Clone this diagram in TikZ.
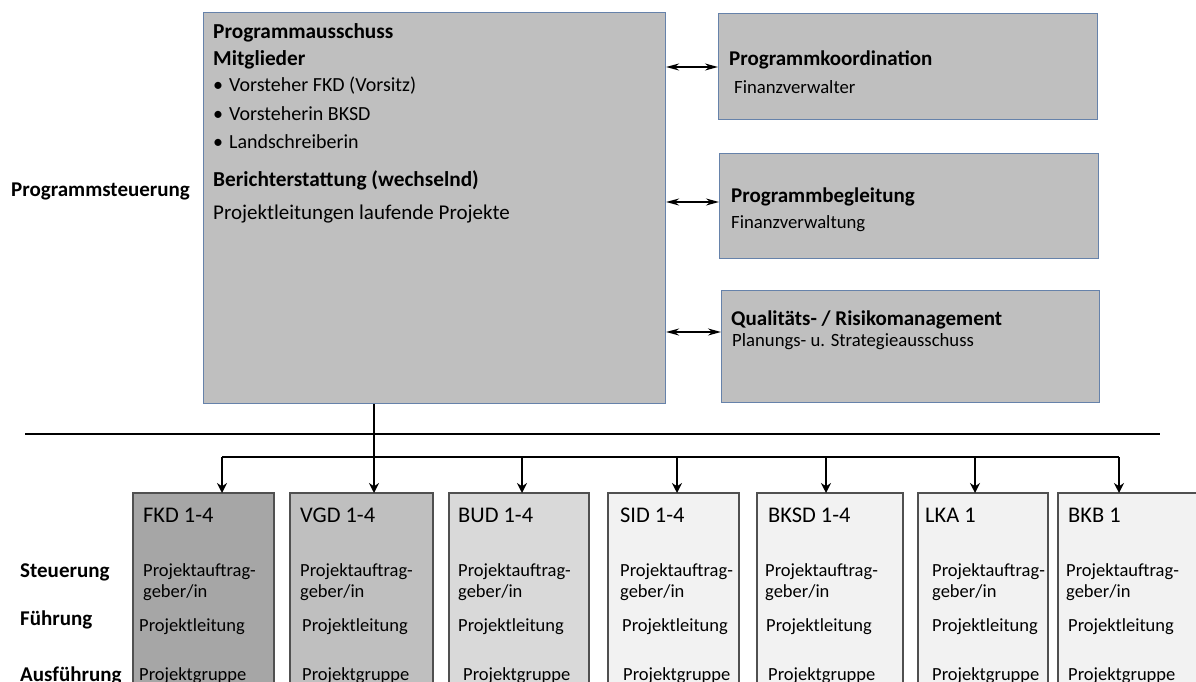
\documentclass[tikz,border=0pt]{standalone}
\usepackage{fontspec}
\setmainfont{Carlito}
\usetikzlibrary{arrows.meta}
\definecolor{topfill}{HTML}{BFBFBF}
\definecolor{topborder}{HTML}{6682AA}
\definecolor{botborder}{HTML}{505050}
\definecolor{gA}{HTML}{A6A6A6}
\definecolor{gB}{HTML}{BFBFBF}
\definecolor{gC}{HTML}{D9D9D9}
\definecolor{gD}{HTML}{F2F2F2}
\begin{document}
\begin{tikzpicture}[x=1pt,y=-1pt,
  topbox/.style={draw=topborder,fill=topfill,line width=1.1pt},
  botbox/.style={draw=botborder,line width=1.4pt},
  txt/.style={anchor=west,inner sep=0pt,font=\fontsize{21}{24}\selectfont,text=black},
  btxt/.style={txt,font=\fontsize{21.3}{24}\selectfont\bfseries},
  itx/.style={txt,font=\fontsize{20}{23}\selectfont},
  stxt/.style={txt,font=\fontsize{18.7}{21}\selectfont},
  sbtxt/.style={txt,font=\fontsize{21}{24}\selectfont\bfseries},
  ttl/.style={txt,font=\fontsize{22.4}{26}\selectfont},
  itm/.style={txt,font=\fontsize{18.5}{21}\selectfont},
  lbl/.style={txt,font=\fontsize{21}{24}\selectfont\bfseries},
  dbl/.style={{Stealth[length=13pt,width=7pt]}-{Stealth[length=13pt,width=7pt]},line width=1.6pt},
  down/.style={-{Stealth[length=10pt,width=10pt]},line width=2.4pt},
  bus/.style={line width=2.4pt}]
\useasboundingbox (0,0) rectangle (1196,682);
% top
\node[topbox,minimum width=462pt,minimum height=391pt,anchor=north west,inner sep=0pt] (main) at (203,12) {};
\node[btxt] (t1) at (213,33) {Programmausschuss};
\node[btxt] (t2) at (213,60) {Mitglieder};
\node[itx] (b1) at (213,86) {•\hspace{6pt}Vorsteher FKD (Vorsitz)};
\node[itx] (b2) at (213,114) {•\hspace{6pt}Vorsteherin BKSD};
\node[itx] (b3) at (213,142) {•\hspace{6pt}Landschreiberin};
\node[btxt] (t3) at (213,180) {Berichterstattung (wechselnd)};
\node[txt] (t4) at (213,214) {Projektleitungen laufende Projekte};
\node[lbl] (ps) at (11,191) {Programmsteuerung};
\node[topbox,minimum width=379pt,minimum height=106pt,anchor=north west,inner sep=0pt] (r1) at (718,13) {};
\node[topbox,minimum width=379pt,minimum height=105pt,anchor=north west,inner sep=0pt] (r2) at (719,153) {};
\node[topbox,minimum width=378pt,minimum height=112pt,anchor=north west,inner sep=0pt] (r3) at (721,290) {};
\node[sbtxt] (r1a) at (729,60) {Programmkoordination};
\node[stxt] (r1b) at (734,87) {Finanzverwalter};
\node[sbtxt] (r2a) at (731,197) {Programmbegleitung};
\node[stxt] (r2b) at (731,224) {Finanzverwaltung};
\node[sbtxt] (r3a) at (731,320) {Qualitäts- / Risikomanagement};
\node[stxt] (r3b) at (732,342) {Planungs- u. Strategieausschuss};
\draw[dbl] (main.east |- 0,67) -- (r1.west |- 0,67);
\draw[dbl] (main.east |- 0,202) -- (r2.west |- 0,202);
\draw[dbl] (main.east |- 0,332) -- (r3.west |- 0,332);
% separator
\coordinate (sl) at (25,434);
\coordinate (sr) at (1160,434);
\draw[line width=2.2pt] (sl) -- (sr);
% bottom boxes
\foreach \n/\a/\b/\c in {fkd/133/274/gA,vgd/290/433/gB,bud/449/589/gC,sid/608/739/gD,bksd/757/903/gD,lka/918/1048/gD,bkb/1058/1210/gD}{
  \path[botbox,fill=\c] (\a,493) rectangle (\b,700);
  \node[inner sep=0pt,minimum width={\b-\a},minimum height=10pt,anchor=north west] (\n) at (\a,493) {};
}
\coordinate (j) at (374,457);
\coordinate (jl) at (222,457);
\coordinate (jr) at (1119,457);
\draw[bus] (main.south -| j) -- (j);
\draw[bus] (jl) -- (jr);
\draw[down] (jl) -- (fkd.north -| jl);
\draw[down] (j) -- (vgd.north -| j);
\draw[down] (522,457) -- (bud.north -| 522,0);
\draw[down] (677,457) -- (sid.north -| 677,0);
\draw[down] (826,457) -- (bksd.north -| 826,0);
\draw[down] (975,457) -- (lka.north -| 975,0);
\draw[down] (jr) -- (bkb.north -| jr);
% texts
\foreach \n/\tx/\ax/\lx/\gx/\ttext in {fkd/143/143/139/139/FKD 1-4,vgd/300/300/302/302/VGD 1-4,bud/458/458/458/463/BUD 1-4,sid/620/620/622/623/SID 1-4,bksd/768/765/766/768/BKSD 1-4,lka/925/932/932/932/LKA 1,bkb/1068/1066/1068/1068/BKB 1}{
  \node[ttl] (\n-t) at (\tx,515) {\ttext};
  \node[itm,align=left] (\n-a) at (\ax,582) {Projektauftrag-\\geber/in};
  \node[itm] (\n-l) at (\lx,627) {Projektleitung};
  \node[itm] (\n-g) at (\gx,676) {Projektgruppe};
}
\node[lbl] (st) at (20,572) {Steuerung};
\node[lbl] (fu) at (20,620) {Führung};
\node[lbl] (au) at (20,676) {Ausführung};
\end{tikzpicture}
\end{document}
